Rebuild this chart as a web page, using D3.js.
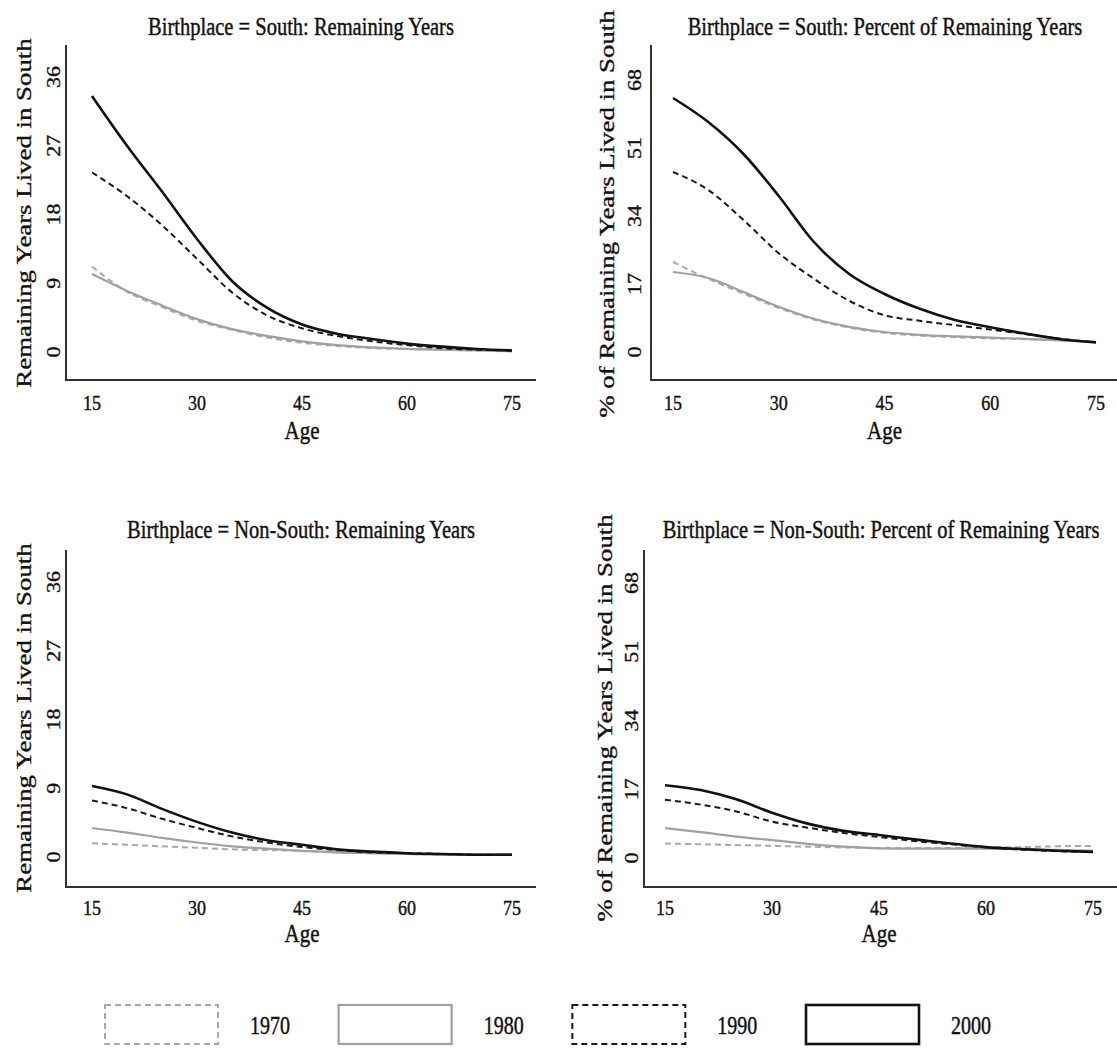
<!DOCTYPE html>
<html>
<head>
<meta charset="utf-8">
<script src="https://cdn.jsdelivr.net/npm/d3@7"></script>
<style>
  body { margin: 0; background: #fff; }
  text { font-family: "Liberation Serif", "Times New Roman", serif; fill: #111; stroke: #111; stroke-width: 0.35px; }
</style>
</head>
<body>
<div id="chart"></div>
<script>
// ages sampled along the x axis
const ages = [15, 20, 25, 30, 35, 40, 45, 50, 55, 60, 65, 70, 75];
const years = ["1970", "1980", "1990", "2000"];
const ageTicks = [15, 30, 45, 60, 75];
const remTicks = [0, 9, 18, 27, 36];
const pctTicks = [0, 17, 34, 51, 68];

// Birthplace = South, remaining years lived in South
const southRem1970 = [11.2, 7.9, 5.9, 4.1, 2.9, 1.9, 1.2, 0.8, 0.5, 0.4, 0.3, 0.2, 0.1];
const southRem1980 = [10.2, 8.0, 6.1, 4.3, 3.0, 2.1, 1.4, 0.9, 0.6, 0.4, 0.3, 0.2, 0.1];
const southRem1990 = [23.5, 20.4, 16.6, 12.2, 7.8, 4.8, 3.1, 2.1, 1.4, 0.9, 0.5, 0.3, 0.2];
const southRem2000 = [33.5, 27.0, 21.0, 14.8, 9.3, 5.8, 3.6, 2.4, 1.7, 1.1, 0.7, 0.4, 0.2];

// Birthplace = South, percent of remaining years
const southPct1970 = [22.5, 18.3, 14.6, 11.0, 8.1, 6.1, 4.8, 4.1, 3.7, 3.4, 3.2, 2.9, 2.5];
const southPct1980 = [20.0, 18.5, 15.0, 11.3, 8.3, 6.3, 5.0, 4.3, 3.9, 3.6, 3.3, 2.9, 2.5];
const southPct1990 = [45.0, 40.5, 33.0, 24.7, 18.3, 12.8, 9.2, 7.8, 6.7, 5.6, 4.5, 3.3, 2.4];
const southPct2000 = [63.5, 57.5, 49.5, 39.0, 27.5, 19.5, 14.5, 10.8, 8.0, 6.2, 4.6, 3.2, 2.4];

// Birthplace = Non-South, remaining years lived in South
const nonSouthRem1970 = [1.8, 1.6, 1.4, 1.2, 1.0, 0.9, 0.8, 0.6, 0.5, 0.4, 0.3, 0.3, 0.3];
const nonSouthRem1980 = [3.8, 3.2, 2.5, 1.9, 1.4, 1.1, 0.8, 0.6, 0.5, 0.4, 0.3, 0.3, 0.3];
const nonSouthRem1990 = [7.4, 6.4, 5.0, 3.8, 2.7, 1.9, 1.3, 0.9, 0.6, 0.5, 0.4, 0.3, 0.3];
const nonSouthRem2000 = [9.3, 8.2, 6.3, 4.6, 3.2, 2.2, 1.6, 1.0, 0.7, 0.5, 0.4, 0.3, 0.3];

// Birthplace = Non-South, percent of remaining years
const nonSouthPct1970 = [3.6, 3.4, 3.2, 3.0, 2.8, 2.6, 2.5, 2.5, 2.5, 2.6, 2.7, 2.9, 3.0];
const nonSouthPct1980 = [7.4, 6.4, 5.3, 4.4, 3.5, 2.8, 2.4, 2.3, 2.3, 2.3, 2.2, 2.0, 1.8];
const nonSouthPct1990 = [14.4, 13.2, 11.5, 9.0, 7.5, 6.2, 5.2, 4.2, 3.4, 2.6, 2.1, 1.7, 1.5];
const nonSouthPct2000 = [18.0, 16.8, 14.5, 11.2, 8.5, 6.7, 5.7, 4.6, 3.6, 2.7, 2.2, 1.8, 1.5];

const W = 1117, H = 1049;
const SY = 1.22; // the original scan is stretched vertically
const font = "Liberation Serif";

const styles = {
  "1970": { color: "#a8a8a8", width: 2, dash: "6,4" },
  "1980": { color: "#a0a0a0", width: 2.2, dash: null },
  "1990": { color: "#1a1a1a", width: 2, dash: "6,4" },
  "2000": { color: "#111", width: 2.6, dash: null },
};

const panels = [
  { title: "Birthplace = South: Remaining Years", yTitle: "Remaining Years Lived in South",
    ticks: remTicks, series: [southRem1970, southRem1980, southRem1990, southRem2000],
    axisX: 66, top: 45, bottom: 380, right: 536, x0: 92, x1: 512, y0: 352, y1: 77,
    tickX: 54, tickY: 402, ageY: 430, titleX: 301, titleY: 27, yTitleX: 23, yTitleY: 213 },
  { title: "Birthplace = South: Percent of Remaining Years", yTitle: "% of Remaining Years Lived in South",
    ticks: pctTicks, series: [southPct1970, southPct1980, southPct1990, southPct2000],
    axisX: 651, top: 45, bottom: 380, right: 1117, x0: 673, x1: 1096, y0: 352, y1: 80,
    tickX: 635, tickY: 402, ageY: 430, titleX: 885, titleY: 27, yTitleX: 606, yTitleY: 214 },
  { title: "Birthplace = Non-South: Remaining Years", yTitle: "Remaining Years Lived in South",
    ticks: remTicks, series: [nonSouthRem1970, nonSouthRem1980, nonSouthRem1990, nonSouthRem2000],
    axisX: 66, top: 550, bottom: 887, right: 536, x0: 92, x1: 512, y0: 857, y1: 582,
    tickX: 54, tickY: 907, ageY: 933, titleX: 301, titleY: 530, yTitleX: 23, yTitleY: 718 },
  { title: "Birthplace = Non-South: Percent of Remaining Years", yTitle: "% of Remaining Years Lived in South",
    ticks: pctTicks, series: [nonSouthPct1970, nonSouthPct1980, nonSouthPct1990, nonSouthPct2000],
    axisX: 644, top: 550, bottom: 887, right: 1117, x0: 665, x1: 1093, y0: 858, y1: 583,
    tickX: 632, tickY: 907, ageY: 933, titleX: 881, titleY: 530, yTitleX: 604, yTitleY: 718 },
];

const svg = d3.select("#chart").append("svg")
  .attr("width", W).attr("height", H);

function addText(g, x, y, str, size, rotate) {
  return g.append("text")
    .attr("transform", `translate(${x},${y}) scale(1,${SY})` + (rotate ? " rotate(-90)" : ""))
    .attr("text-anchor", "middle")
    .attr("dominant-baseline", "central")
    .style("font-family", font)
    .style("font-size", size + "px")
    .text(str);
}

panels.forEach((p) => {
  const g = svg.append("g");
  const x = d3.scaleLinear().domain([15, 75]).range([p.x0, p.x1]);
  const y = d3.scaleLinear().domain([0, p.ticks[p.ticks.length - 1]]).range([p.y0, p.y1]);

  // axis lines (left + bottom only)
  g.append("path")
    .attr("d", `M${p.axisX},${p.top} V${p.bottom} H${p.right}`)
    .attr("fill", "none").attr("stroke", "#333").attr("stroke-width", 2);

  // tick labels
  p.ticks.forEach((t) => addText(g, p.tickX, y(t), t, 18, true));
  ageTicks.forEach((t) => addText(g, x(t), p.tickY, t, 18, false));

  addText(g, (p.x0 + p.x1) / 2, p.ageY, "Age", 21, false);
  addText(g, p.titleX, p.titleY, p.title, 20.5, false);
  addText(g, p.yTitleX, p.yTitleY, p.yTitle, 22, true);

  const line = d3.line()
    .x((d, i) => x(ages[i]))
    .y((d) => y(d))
    .curve(d3.curveMonotoneX);

  p.series.forEach((s, i) => {
    const st = styles[years[i]];
    g.append("path")
      .datum(s)
      .attr("d", line)
      .attr("fill", "none")
      .attr("stroke", st.color)
      .attr("stroke-width", st.width)
      .attr("stroke-dasharray", st.dash)
      .attr("stroke-linejoin", "round");
  });
});

// legend
const legendX = d3.scaleLinear().domain([0, 3]).range([105, 806]);
years.forEach((yr, i) => {
  const st = styles[yr];
  const lx = legendX(i);
  svg.append("rect")
    .attr("x", lx).attr("y", 1005)
    .attr("width", 113).attr("height", 39)
    .attr("fill", "none")
    .attr("stroke", st.color)
    .attr("stroke-width", st.width)
    .attr("stroke-dasharray", st.dash);
  addText(svg, lx + 165, 1026, yr, 20, false);
});
</script>
</body>
</html>
